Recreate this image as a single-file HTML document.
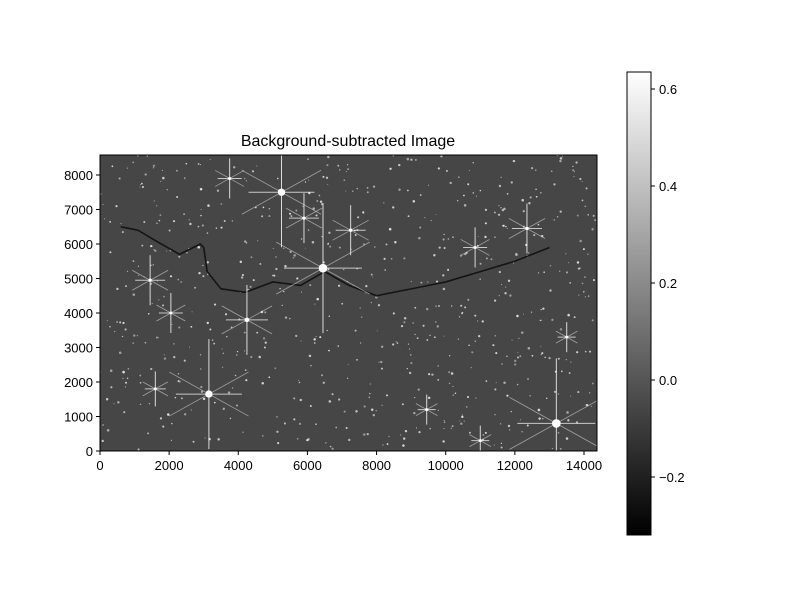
<!DOCTYPE html>
<html><head><meta charset="utf-8"><style>
body{margin:0;background:#fff;}
svg{display:block;font-family:"Liberation Sans","DejaVu Sans",sans-serif;}
</style></head><body>
<svg id="chart" width="800" height="600" viewBox="0 0 800 600">
<defs>
<linearGradient id="cb" x1="0" y1="1" x2="0" y2="0">
<stop offset="0" stop-color="#000"/><stop offset="1" stop-color="#fff"/>
</linearGradient>
<clipPath id="clip"><rect x="100" y="155" width="497" height="296"/></clipPath>
</defs>
<text x="348" y="146" font-size="16" text-anchor="middle">Background-subtracted Image</text>
<g id="img" clip-path="url(#clip)"></g>
<rect x="100" y="155" width="497" height="296" fill="none" stroke="#000" stroke-width="1"/>
<g id="axes"></g>
<rect x="627" y="72" width="24" height="463" fill="url(#cb)" stroke="#000" stroke-width="1"/>
<g id="cbaxis"></g>
</svg>
<script>
const xTicks=[0,2000,4000,6000,8000,10000,12000,14000];
const yTicks=[0,1000,2000,3000,4000,5000,6000,7000,8000];
const cbTicks=[-0.2,0.0,0.2,0.4,0.6];
const cbLabels=["\u22120.2","0.0","0.2","0.4","0.6"];
const starX=[5250,6450,3150,13200,7250,4250,5900,12350,1450,2050,3750,10850,1600,9450,13500,11000];
const starY=[7500,5300,1650,800,6400,3800,6750,6450,4950,4000,7900,5900,1800,1200,3300,300];
const starS=[22,26,22,26,10,14,10,10,10,8,8,8,7,6,6,6];
const filX=[600,1100,1600,2300,2900,3000,3100,3500,4200,5000,5800,6500,7200,8000,9000,10000,11000,12000,13000];
const filY=[6500,6400,6100,5700,6000,5900,5200,4700,4600,4900,4800,5200,4800,4500,4700,4900,5200,5500,5900];
const sx=v=>100+v*484/14000, sy=v=>451-v*276/8000;
const cy=v=>380-v*485;
const NS="http://www.w3.org/2000/svg";
function mk(t,a,p){const e=document.createElementNS(NS,t);for(const k in a)e.setAttribute(k,a[k]);p.appendChild(e);return e;}
const img=document.getElementById('img'),axes=document.getElementById('axes'),cba=document.getElementById('cbaxis');
let bg=mk('rect',{x:100,y:155,width:497,height:296,fill:'#464646'},img);


let seed=7;function rnd(){seed=(seed*16807)%2147483647;return seed/2147483647;}
for(let i=0;i<700;i++){mk('circle',{cx:100+rnd()*497,cy:155+rnd()*296,r:0.5+rnd()*0.8,fill:'#ddd','fill-opacity':0.5+rnd()*0.5},img);}
let fp='M'+filX.map((v,i)=>sx(v)+','+sy(filY[i])).join(' L');
let fil=mk('path',{d:fp,fill:'none',stroke:'#151515',"stroke-width":1.6},img);


starX.forEach((v,i)=>{const g=mk('g',{},img);


const x=sx(v),y=sy(starY[i]),s=starS[i];
mk('line',{x1:x,y1:y-s*2.5,x2:x,y2:y+s*2.5,stroke:'#fff',"stroke-width":1,"stroke-opacity":0.8},g);
mk('line',{x1:x-s*1.5,y1:y,x2:x+s*1.5,y2:y,stroke:'#fff',"stroke-width":1,"stroke-opacity":0.7},g);
mk('line',{x1:x-s*1.8,y1:y-s,x2:x+s*1.8,y2:y+s,stroke:'#ddd',"stroke-width":0.8,"stroke-opacity":0.6},g);
mk('line',{x1:x-s*1.8,y1:y+s,x2:x+s*1.8,y2:y-s,stroke:'#ddd',"stroke-width":0.8,"stroke-opacity":0.6},g);
mk('circle',{cx:x,cy:y,r:Math.max(1.5,s/6),fill:'#fff'},g);});
xTicks.forEach(v=>{const x=sx(v);mk('line',{x1:x,y1:451,x2:x,y2:455,stroke:'#000'},axes);
const t=mk('text',{x:x,y:470,"font-size":13,"text-anchor":"middle"},axes);t.textContent=v;

});
yTicks.forEach(v=>{const y=sy(v);mk('line',{x1:96,y1:y,x2:100,y2:y,stroke:'#000'},axes);
const t=mk('text',{x:93,y:y+5,"font-size":13,"text-anchor":"end"},axes);t.textContent=v;

});
cbTicks.forEach((v,i)=>{const y=cy(v);mk('line',{x1:651,y1:y,x2:655,y2:y,stroke:'#000'},cba);
const t=mk('text',{x:659,y:y+5,"font-size":13},cba);t.textContent=cbLabels[i];

});
</script>
</body></html>
